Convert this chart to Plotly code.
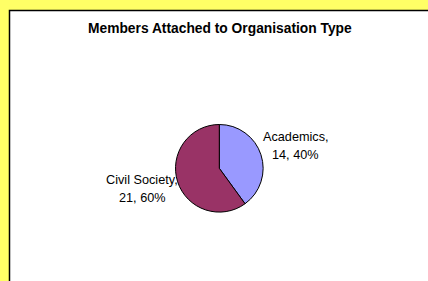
import plotly.graph_objects as go

categories = ["Academics", "Civil Society"]
values = [14, 21]
percents = ["40%", "60%"]
colors = ["#9999FF", "#993366"]

W, H = 428, 281
cx, cy, r = 219.3, 168.3, 43.8

fig = go.Figure(go.Pie(
    labels=categories, values=values, sort=False, direction="clockwise", rotation=0,
    marker=dict(colors=colors, line=dict(color="black", width=1)),
    textinfo="none", hoverinfo="label+value+percent", showlegend=False,
    domain=dict(x=[(cx - r) / W, (cx + r) / W], y=[(H - cy - r) / H, (H - cy + r) / H]),
))

label_pos = [(295.5, 137), (142, 180)]
line_gap = 18
font = dict(family="Liberation Sans, Arial", size=12.7, color="black")
annotations = []
for (x, y), c, v, p in zip(label_pos, categories, values, percents):
    for i, t in enumerate([f"{c},", f"{v}, {p}"]):
        annotations.append(dict(x=x / W, y=1 - (y + i * line_gap) / H, xref="paper", yref="paper",
                                xanchor="center", yanchor="middle",
                                text=t, showarrow=False, font=font))
annotations.append(dict(x=219.5 / W, y=1 - 28 / H, xref="paper", yref="paper",
                        xanchor="center", yanchor="middle",
                        text="<b>Members Attached to Organisation Type</b>", showarrow=False,
                        font=dict(family="Liberation Sans, Arial", size=13.8, color="black")))

fig.update_layout(
    width=W, height=H, margin=dict(l=0, r=0, t=0, b=0),
    paper_bgcolor="#FFFF66", plot_bgcolor="#FFFF66",
    shapes=[dict(type="rect", xref="paper", yref="paper", x0=9.5 / W, y0=-0.05, x1=1.05, y1=1 - 10.5 / H,
                 fillcolor="white", line=dict(color="black", width=1.5), layer="below")],
    annotations=annotations,
)
fig.write_html("out.html", config={"displayModeBar": False},
               post_script="document.body.style.margin='0';document.body.style.overflow='hidden';")
